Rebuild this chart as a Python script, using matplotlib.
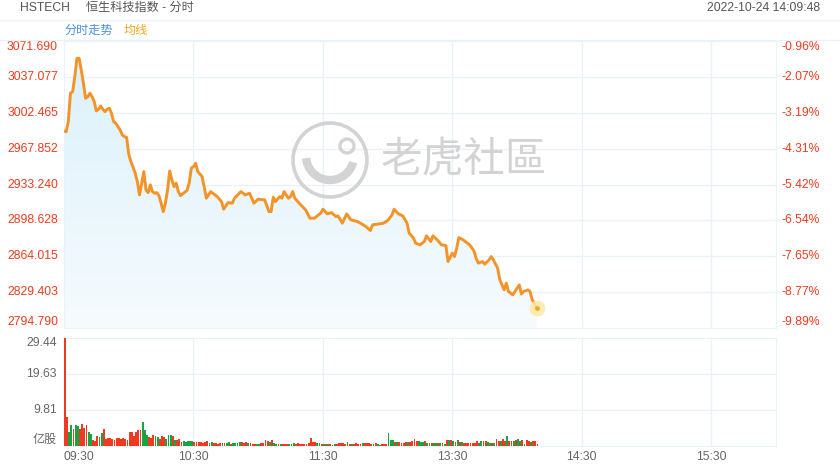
import numpy as np
import matplotlib
matplotlib.use("Agg")
import matplotlib.pyplot as plt
from matplotlib.patches import Circle, Arc, Polygon
from matplotlib.colors import LinearSegmentedColormap

plt.rcParams['font.family'] = ['Liberation Sans', 'Noto Sans CJK SC']

# trading minutes counted from 09:30 (lunch break 12:00-13:00 removed)
price_min = [0, 1, 2, 3, 4, 5, 6, 7, 8, 9,
             10, 11, 12, 13, 14, 15, 16, 17, 18, 19,
             20, 21, 22, 23, 24, 25, 26, 27, 28, 29,
             30, 31, 32, 33, 34, 35, 36, 37, 38, 39,
             40, 41, 42, 43, 44, 45, 46, 47, 48, 49,
             50, 51, 52, 53, 54, 55, 57, 58, 59, 60,
             61, 62, 64, 66, 68, 71, 73, 74, 76, 78,
             79, 82, 84, 86, 88, 90, 93, 95, 96, 97,
             98, 100, 101, 102, 104, 105, 106, 107, 109, 112,
             114, 116, 118, 119, 120, 122, 124, 126, 127, 129,
             131, 133, 136, 138, 140, 142, 143, 146, 148, 150,
             152, 153, 155, 157, 159, 160, 162, 163, 165, 167,
             168, 170, 171, 173, 175, 177, 178, 180, 181, 182,
             183, 185, 188, 190, 191, 192, 194, 195, 197, 198,
             199, 201, 202, 204, 205, 206, 208, 209, 211, 212,
             213, 215, 216, 217, 218, 219]
price_val = [2984.9, 2984.2, 2993.9, 3021.3, 3022.8, 3037.3, 3055.0, 3055.0, 3043.7, 3030.9,
             3016.4, 3018.0, 3021.3, 3018.0, 3013.2, 3004.2, 3005.8, 3009.0, 3005.8, 3003.5,
             3005.8, 3006.8, 3002.0, 2993.9, 2992.3, 2989.1, 2985.9, 2981.1, 2979.4, 2978.8,
             2962.7, 2955.3, 2949.9, 2944.1, 2936.0, 2923.2, 2934.5, 2945.7, 2928.0, 2925.4,
             2932.9, 2926.4, 2924.8, 2925.4, 2922.5, 2915.2, 2907.1, 2915.2, 2928.0, 2946.3,
             2937.7, 2931.2, 2934.5, 2926.4, 2922.5, 2924.2, 2927.4, 2934.5, 2949.0, 2950.5,
             2953.8, 2945.7, 2940.9, 2920.0, 2926.4, 2921.6, 2916.7, 2909.4, 2915.8, 2915.2,
             2920.0, 2926.4, 2923.2, 2924.8, 2915.2, 2919.1, 2918.4, 2907.1, 2907.1, 2921.0,
             2916.7, 2921.6, 2920.0, 2926.4, 2920.0, 2921.6, 2926.4, 2920.0, 2915.2, 2908.7,
             2900.7, 2900.7, 2903.9, 2905.6, 2909.4, 2904.9, 2906.1, 2902.3, 2903.0, 2895.9,
             2904.9, 2899.1, 2897.5, 2895.2, 2892.6, 2888.8, 2894.3, 2895.2, 2895.9, 2898.4,
             2903.9, 2909.4, 2904.9, 2903.0, 2895.9, 2886.3, 2881.5, 2876.6, 2875.0, 2878.2,
             2883.7, 2878.2, 2883.7, 2879.8, 2875.0, 2874.3, 2858.9, 2867.0, 2863.7, 2871.8,
             2882.0, 2879.8, 2875.0, 2869.2, 2862.2, 2857.4, 2858.9, 2856.4, 2860.5, 2863.7,
             2860.5, 2852.5, 2841.2, 2831.6, 2838.1, 2830.0, 2826.8, 2830.0, 2836.4, 2827.5,
             2830.0, 2831.6, 2830.0, 2822.0, 2818.8, 2814.0]

# volume per minute (亿股), morning then afternoon; r = up minute, g = down minute
vol_am = [29.44, 7.8, 3.9, 5.6, 4.5, 5.8, 5.4, 4.5, 6.1, 5.0,
          5.6, 3.9, 3.3, 1.7, 1.3, 2.8, 2.4, 3.5, 4.5, 1.9,
          2.1, 2.1, 2.0, 1.6, 2.2, 2.2, 1.8, 2.1, 1.8, 1.5,
          3.9, 3.7, 2.7, 3.9, 4.3, 4.4, 6.6, 4.3, 3.0, 2.4,
          2.2, 2.9, 2.6, 2.4, 1.8, 2.7, 2.5, 1.9, 3.0, 3.0,
          2.7, 1.6, 1.5, 1.9, 1.2, 1.4, 1.2, 1.3, 1.4, 1.4,
          1.2, 1.2, 1.1, 1.0, 0.9, 1.2, 1.4, 0.9, 1.0, 0.7,
          0.9, 0.6, 0.8, 0.9, 0.7, 0.9, 1.0, 0.6, 0.9, 0.9,
          0.8, 1.2, 1.1, 0.8, 1.0, 0.9, 0.8, 0.5, 0.5, 0.6,
          0.6, 0.8, 0.7, 1.5, 1.3, 1.0, 1.6, 0.7, 0.6, 0.6,
          0.6, 0.5, 0.5, 0.6, 0.6, 0.6, 0.9, 0.6, 0.8, 0.6,
          0.54, 0.54, 0.54, 0.73, 2.09, 1.18, 1.09, 0.82, 0.73, 0.54,
          0.45, 0.45, 0.54, 0.45, 0.36, 0.45, 0.54, 0.91, 0.82, 0.73,
          0.54, 1.09, 0.54, 0.54, 0.54, 0.82, 0.45, 0.45, 0.91, 0.73,
          0.73, 0.82, 0.64, 0.54, 0.73, 0.45, 0.36, 0.45, 0.54, 0.64]
dir_am = ("rrggrggrrr" "rggrrrggrr" "rrrrrrrrrr" "rrrrrrgggr" "rrggrrrggg"
          "rgrrrggggg" "rrrrrrrggr" "rrrgrggrgg" "ggrrrgrrrg" "grrrrgrggr"
          "grrrgggrrr" "rrrrrrrggr" "grgrrgrrrr" "rgrgrrrrgr" "rrrgrggrrr")
vol_pm = [3.63, 1.63, 1.63, 1.0, 1.18, 1.09, 0.91, 0.91, 1.0, 1.18,
          1.18, 1.27, 1.82, 1.45, 1.27, 1.18, 1.18, 1.27, 0.91, 0.91,
          0.73, 0.91, 0.82, 0.73, 0.82, 0.73, 0.64, 1.73, 1.73, 1.63,
          1.36, 1.18, 1.73, 1.0, 1.18, 0.91, 0.82, 0.82, 0.73, 0.82,
          0.82, 1.27, 0.73, 1.36, 1.45, 1.36, 1.18, 0.91, 0.73, 0.91,
          1.91, 1.45, 1.36, 1.82, 1.36, 2.72, 1.27, 1.27, 1.45, 1.54,
          2.0, 1.36, 1.73, 0.64, 1.63, 1.36, 1.18, 1.27, 1.36, 0.54]
dir_pm = ("gggrgrrrrg" "rrrrgggrgg" "rggrgrgrgr" "grgrgrrrrr"
          "rrggrrggrg" "rrgrrgrrgr" "ggrgrrgrrr")

left_ticks = [3071.690, 3037.077, 3002.465, 2967.852, 2933.240,
              2898.628, 2864.015, 2829.403, 2794.790]
right_labels = ['-0.96%', '-2.07%', '-3.19%', '-4.31%', '-5.42%',
                '-6.54%', '-7.65%', '-8.77%', '-9.89%']
vol_ticks = [29.44, 19.63, 9.81]
time_pos = [0, 60, 120, 180, 240, 300]
time_labels = ['09:30', '10:30', '11:30', '13:30', '14:30', '15:30']

RED = '#f03a1f'
GREEN = '#18a446'
GRID = '#e8f3f9'
GREY = '#666666'

fig = plt.figure(figsize=(8.4, 4.7), dpi=100)
ax = fig.add_axes([64 / 840, 1 - 328 / 470, 712 / 840, 287 / 470])
axv = fig.add_axes([64 / 840, 1 - 446 / 470, 712 / 840, 108 / 470])

# ---- price panel
ax.set_xlim(0, 330)
ax.set_ylim(left_ticks[-1], left_ticks[0])
for v in left_ticks[1:-1]:
    ax.axhline(v, color=GRID, lw=1, zorder=0)
for t in time_pos[1:]:
    ax.axvline(t, color=GRID, lw=1, zorder=0)

# gradient fill under the line
ymin, ymax = left_ticks[-1], left_ticks[0]
verts = [(price_min[0], ymin)] + list(zip(price_min, price_val)) + [(price_min[-1], ymin)]
clip = Polygon(verts, closed=True, facecolor='none', edgecolor='none')
ax.add_patch(clip)
cmap = LinearSegmentedColormap.from_list('fill', ['#dcf1fb', '#f6fbfe'])
grad = np.linspace(0, 1, 256).reshape(-1, 1)
im = ax.imshow(grad, cmap=cmap, extent=[0, 330, ymin, max(price_val)],
               aspect='auto', origin='upper', zorder=1)
im.set_clip_path(clip)

ax.plot(price_min, price_val, color='#f39328', lw=2.1, zorder=3, solid_joinstyle='round')
ax.scatter(price_min[-1], price_val[-1], s=130, color='#fce9a6', alpha=0.85, zorder=4, lw=0)
ax.scatter(price_min[-1], price_val[-1], s=12, color='#f5a623', zorder=5, lw=0)

ax.set_xticks([])
ax.set_yticks([])
for s in ax.spines.values():
    s.set_color(GRID)

for i, v in enumerate(left_ticks):
    dy = -4.3 if i == 0 else (4.3 if i == len(left_ticks) - 1 else 0)
    ax.annotate(f'{v:.3f}', xy=(0, v), xycoords=('axes fraction', 'data'),
                xytext=(-4.3, dy), textcoords='offset points',
                ha='right', va='center', color=RED, fontsize=8.7)
    ax.annotate(right_labels[i], xy=(1, v), xycoords=('axes fraction', 'data'),
                xytext=(4.3, dy), textcoords='offset points',
                ha='left', va='center', color=RED, fontsize=8.7)

# ---- volume panel
vol = vol_am + vol_pm
dirs = dir_am + dir_pm
minutes = np.arange(len(vol))
colors = [RED if d == 'r' else GREEN for d in dirs]
axv.set_xlim(0, 330)
axv.set_ylim(0, vol_ticks[0])
for v in vol_ticks[1:]:
    axv.axhline(v, color=GRID, lw=1, zorder=0)
for t in time_pos[1:]:
    axv.axvline(t, color=GRID, lw=1, zorder=0)
axv.bar(minutes, vol, width=0.85, align='edge', color=colors, lw=0, zorder=3)
axv.set_xticks([])
axv.set_yticks([])
for s in axv.spines.values():
    s.set_color(GRID)

for i, v in enumerate(vol_ticks):
    dy = -3.6 if i == 0 else 0
    axv.annotate(f'{v:.2f}', xy=(0, v), xycoords=('axes fraction', 'data'),
                 xytext=(-5, dy), textcoords='offset points',
                 ha='right', va='center', color=GREY, fontsize=8.7)
axv.annotate('亿股', xy=(0, 0), xycoords=('axes fraction', 'data'),
             xytext=(-5, 4.3), textcoords='offset points',
             ha='right', va='center', color=GREY, fontsize=8.7)

for t, lab in zip(time_pos, time_labels):
    axv.annotate(lab, xy=(t, 0), xycoords=('data', 'axes fraction'),
                 xytext=(0, -8), textcoords='offset points',
                 ha='left' if t == 0 else 'center', va='center',
                 color=GREY, fontsize=8.7)

# ---- header, legend and watermark in pixel space
ov = fig.add_axes([0, 0, 1, 1], zorder=5)
ov.set_xlim(0, 840)
ov.set_ylim(470, 0)
ov.axis('off')
ov.patch.set_visible(False)

ov.text(20, 8, 'HSTECH', color='#555555', fontsize=8.7, va='center')
ov.text(86, 8, '恒生科技指数 - 分时', color='#555555', fontsize=8.7, va='center')
ov.text(820, 8, '2022-10-24 14:09:48', color='#555555', fontsize=8.7, va='center', ha='right')
ov.plot([0, 840], [20, 20], color=GRID, lw=1)
ov.plot([0, 840], [40, 40], color=GRID, lw=1)
ov.text(64, 31, '分时走势', color='#4a90e2', fontsize=8.7, va='center')
ov.text(124, 31, '均线', color='#f5a623', fontsize=8.7, va='center')

wm = '#c9c9c9'
ov.add_patch(Circle((330, 160), 37, fill=False, ec=wm, lw=2.6, alpha=0.8))
ov.add_patch(Arc((330, 156), 48, 48, theta1=15, theta2=175, color=wm, lw=6, alpha=0.8))
ov.add_patch(Circle((347, 146), 7, fill=False, ec=wm, lw=2.4, alpha=0.8))
ov.text(464, 161, '老虎社區', color=wm, fontsize=30, ha='center', va='center', alpha=0.8)

fig.savefig('out.png', dpi=100)
